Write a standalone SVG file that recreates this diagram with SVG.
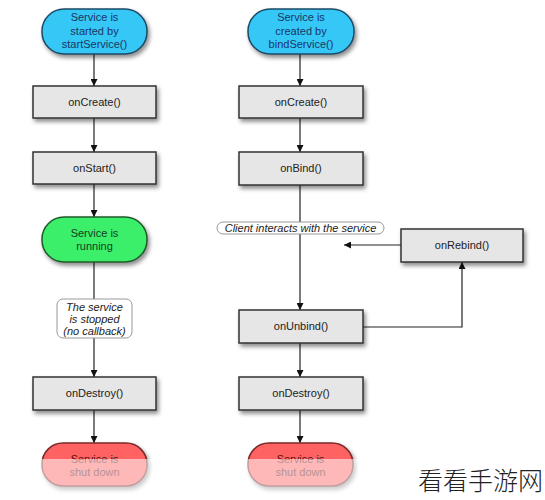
<svg xmlns="http://www.w3.org/2000/svg" width="545" height="500" viewBox="0 0 545 500">
<defs>
<filter id="sh" x="-20%" y="-20%" width="150%" height="170%">
<feDropShadow dx="2" dy="3" stdDeviation="2" flood-color="#000" flood-opacity="0.45"/>
</filter>
<marker id="ah" viewBox="0 0 10 10" refX="10" refY="5" markerWidth="7" markerHeight="7" orient="auto" markerUnits="userSpaceOnUse">
<path d="M0,0 L10,5 L0,10 z" fill="#111"/>
</marker>
</defs>
<style>
.t{font-family:"Liberation Sans",Arial,sans-serif;font-size:11px;text-anchor:middle}
.i{font-style:italic;fill:#222}
.box{fill:#e6e6e6;stroke:#333;stroke-width:1.5;filter:url(#sh)}
.blue{fill:#36c8f6;stroke:#1d4a66;stroke-width:1.5;filter:url(#sh)}
.green{fill:#3bef6b;stroke:#1f5a2a;stroke-width:1.5;filter:url(#sh)}
.red{fill:#ff6262;stroke:#7a2a2a;stroke-width:1.5;filter:url(#sh)}
.note{fill:#fff;stroke:#999;stroke-width:1}
.ln{fill:none;stroke:#222;stroke-width:1.2}
.fade{fill:#fff;opacity:0.55}
</style>
<rect width="545" height="500" fill="#fff"/>

<g id="connectors">
<line class="ln" x1="94" y1="54" x2="94" y2="86" marker-end="url(#ah)"/>
<line class="ln" x1="94" y1="118" x2="94" y2="152" marker-end="url(#ah)"/>
<line class="ln" x1="94" y1="184" x2="94" y2="217" marker-end="url(#ah)"/>
<line class="ln" x1="94" y1="262" x2="94" y2="299"/>
<line class="ln" x1="94" y1="338" x2="94" y2="377" marker-end="url(#ah)"/>
<line class="ln" x1="94" y1="410" x2="94" y2="443" marker-end="url(#ah)"/>
<line class="ln" x1="300" y1="54" x2="300" y2="86" marker-end="url(#ah)"/>
<line class="ln" x1="300" y1="118" x2="300" y2="152" marker-end="url(#ah)"/>
<line class="ln" x1="300" y1="185" x2="300" y2="310" marker-end="url(#ah)"/>
<line class="ln" x1="401" y1="245" x2="344" y2="245" marker-end="url(#ah)"/>
<polyline class="ln" points="363,327 462,327 462,262" marker-end="url(#ah)"/>
<line class="ln" x1="300" y1="343" x2="300" y2="377" marker-end="url(#ah)"/>
<line class="ln" x1="300" y1="410" x2="300" y2="443" marker-end="url(#ah)"/>
</g>

<g id="start1">
<rect class="blue" x="42" y="9" width="105" height="45" rx="22" ry="22"/>
<text class="t" fill="#1a3566" x="94.5" y="21">Service is</text>
<text class="t" fill="#1a3566" x="94.5" y="35">started by</text>
<text class="t" fill="#1a3566" x="94.5" y="48">startService()</text>
</g>
<g id="onCreate1">
<rect class="box" x="33" y="86" width="123" height="32"/>
<text class="t" fill="#222" x="94.5" y="106">onCreate()</text>
</g>
<g id="onStart">
<rect class="box" x="33" y="152" width="123" height="32"/>
<text class="t" fill="#222" x="94.5" y="172">onStart()</text>
</g>
<g id="running">
<rect class="green" x="42" y="217" width="105" height="45" rx="22" ry="22"/>
<text class="t" fill="#15401e" x="94.5" y="237">Service is</text>
<text class="t" fill="#15401e" x="94.5" y="250">running</text>
</g>
<g id="stopped">
<rect class="note" x="57" y="299" width="75" height="39" rx="6" ry="6"/>
<text class="t i" x="94.5" y="311">The service</text>
<text class="t i" x="94.5" y="323">is stopped</text>
<text class="t i" x="94.5" y="335">(no callback)</text>
</g>
<g id="onDestroy1">
<rect class="box" x="33" y="377" width="123" height="33"/>
<text class="t" fill="#222" x="94.5" y="397">onDestroy()</text>
</g>
<g id="shut1">
<rect class="red" x="42" y="443" width="105" height="43" rx="21" ry="21"/>
<text class="t" fill="#5a0c0c" x="94.5" y="463">Service is</text>
<text class="t" fill="#5a0c0c" x="94.5" y="476">shut down</text>
<rect class="fade" x="36" y="459" width="120" height="41"/>
</g>

<g id="start2">
<rect class="blue" x="248" y="9" width="106" height="45" rx="22" ry="22"/>
<text class="t" fill="#1a3566" x="301" y="21">Service is</text>
<text class="t" fill="#1a3566" x="301" y="35">created by</text>
<text class="t" fill="#1a3566" x="301" y="48">bindService()</text>
</g>
<g id="onCreate2">
<rect class="box" x="239" y="86" width="124" height="32"/>
<text class="t" fill="#222" x="301" y="106">onCreate()</text>
</g>
<g id="onBind">
<rect class="box" x="239" y="152" width="124" height="33"/>
<text class="t" fill="#222" x="301" y="172">onBind()</text>
</g>
<g id="client">
<rect class="note" x="217" y="222" width="167" height="12" rx="6" ry="6"/>
<text class="t i" x="300.5" y="232">Client interacts with the service</text>
</g>
<g id="onRebind">
<rect class="box" x="401" y="229" width="122" height="33"/>
<text class="t" fill="#222" x="462" y="249">onRebind()</text>
</g>
<g id="onUnbind">
<rect class="box" x="239" y="310" width="124" height="33"/>
<text class="t" fill="#222" x="301" y="330">onUnbind()</text>
</g>
<g id="onDestroy2">
<rect class="box" x="239" y="377" width="124" height="33"/>
<text class="t" fill="#222" x="301" y="397">onDestroy()</text>
</g>
<g id="shut2">
<rect class="red" x="248" y="443" width="105" height="43" rx="21" ry="21"/>
<text class="t" fill="#5a0c0c" x="300.5" y="463">Service is</text>
<text class="t" fill="#5a0c0c" x="300.5" y="476">shut down</text>
<rect class="fade" x="242" y="459" width="120" height="41"/>
</g>

<text x="418" y="490" font-family="Noto Sans CJK SC, sans-serif" font-size="25" font-weight="300" fill="#222">看看手游网</text>
</svg>
